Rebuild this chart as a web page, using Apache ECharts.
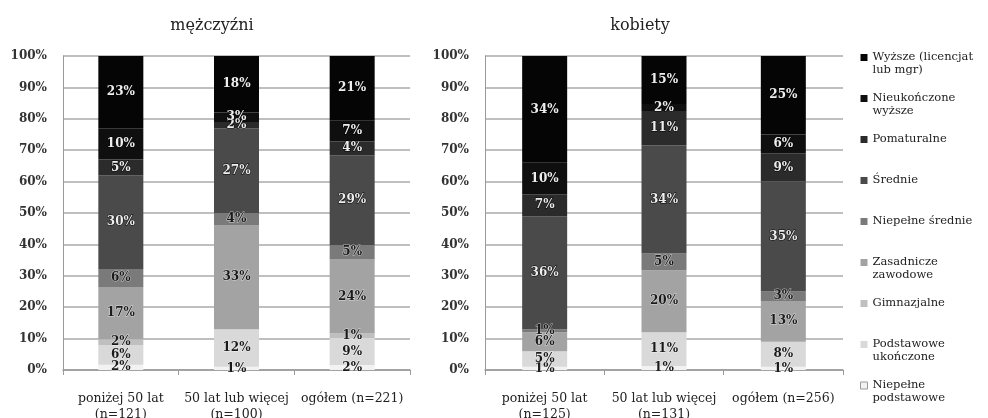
<!DOCTYPE html>
<html>
<head>
<meta charset="utf-8">
<script src="https://cdn.jsdelivr.net/npm/echarts@6/dist/echarts.min.js"></script>
<style>
html, body { margin: 0; padding: 0; background: #fff; }
#chart { width: 988px; height: 418px; }
</style>
</head>
<body>
<div id="chart"></div>
<script>
// education levels, bottom of the stack first
const levels = [
  'Niepełne podstawowe',
  'Podstawowe ukończone',
  'Gimnazjalne',
  'Zasadnicze zawodowe',
  'Niepełne średnie',
  'Średnie',
  'Pomaturalne',
  'Nieukończone wyższe',
  'Wyższe (licencjat lub mgr)'
]

const menCategories = ['poniżej 50 lat\n(n=121)', '50 lat lub więcej\n(n=100)', 'ogółem (n=221)']
const womenCategories = ['poniżej 50 lat\n(n=125)', '50 lat lub więcej\n(n=131)', 'ogółem (n=256)']

// shares in %, one array per bar, same order as levels
const menUnder50 = [1.7, 6.2, 1.9, 16.6, 5.8, 29.8, 5.0, 10.0, 23.0]
const menOver50 = [1, 12, 0, 33, 4, 27, 2, 3, 18]
const menTotal = [1.6, 8.6, 1.4, 23.6, 4.6, 28.6, 4.4, 6.6, 20.6]
const womenUnder50 = [1, 5, 0, 6, 1, 36, 7, 10, 34]
const womenOver50 = [1.3, 10.7, 0, 19.8, 5.3, 34.4, 11.0, 2.2, 15.3]
const womenTotal = [1, 8, 0, 13, 3, 35, 9, 6, 25]

const yTicks = [0, 10, 20, 30, 40, 50, 60, 70, 80, 90, 100]

const levelColors = ['#f2f2f2', '#d9d9d9', '#bfbfbf', '#a3a3a3', '#7a7a7a', '#4a4a4a', '#2b2b2b', '#0f0f0f', '#050505']
const legendText = {
  'Wyższe (licencjat lub mgr)': 'Wyższe (licencjat\nlub mgr)',
  'Nieukończone wyższe': 'Nieukończone\nwyższe',
  'Zasadnicze zawodowe': 'Zasadnicze\nzawodowe',
  'Podstawowe ukończone': 'Podstawowe\nukończone',
  'Niepełne podstawowe': 'Niepełne\npodstawowe'
}

const serif = '"DejaVu Serif", "Liberation Serif", serif'

const chart = echarts.init(document.getElementById('chart'))

const makeSeries = (axisIndex, bars) => levels.map((name, i) => ({
  name: name,
  type: 'bar',
  stack: 'g' + axisIndex,
  xAxisIndex: axisIndex,
  yAxisIndex: axisIndex,
  barWidth: 45,
  data: bars.map(b => b[i]),
  itemStyle: { color: levelColors[i] },
  label: {
    show: true,
    position: 'inside',
    formatter: p => (p.value > 0 ? Math.round(p.value) + '%' : ''),
    fontFamily: serif,
    fontSize: 12,
    fontWeight: 'bold',
    color: i >= 5 ? '#eeeeee' : '#1a1a1a',
    textBorderColor: i >= 5 ? '#000' : 'rgba(255,255,255,0.6)',
    textBorderWidth: 1
  },
  emphasis: { disabled: true }
}))

const yAxisCommon = {
  type: 'value',
  min: 0,
  max: 100,
  interval: 10,
  axisLabel: {
    formatter: v => (yTicks.includes(v) ? v + '%' : ''),
    fontFamily: serif,
    fontSize: 12,
    fontWeight: 'bold',
    color: '#333',
    margin: 16
  },
  axisLine: { show: true, lineStyle: { color: '#9a9a9a', width: 1 } },
  axisTick: { show: false },
  splitLine: { lineStyle: { color: '#aaaaaa', width: 1.5 } }
}

const xAxisCommon = {
  type: 'category',
  axisLabel: {
    fontFamily: serif,
    fontSize: 12.5,
    color: '#222',
    margin: 21,
    lineHeight: 16,
    interval: 0
  },
  axisLine: { lineStyle: { color: '#9a9a9a', width: 1.5 } },
  axisTick: { show: true, length: 5, lineStyle: { color: '#9a9a9a' } }
}

chart.setOption({
  animation: false,
  title: [
    { text: 'mężczyźni', left: 207, top: 13, textAlign: 'center',
      textStyle: { fontFamily: serif, fontSize: 16, fontWeight: 'normal', color: '#222' } },
    { text: 'kobiety', left: 635, top: 13, textAlign: 'center',
      textStyle: { fontFamily: serif, fontSize: 16, fontWeight: 'normal', color: '#222' } }
  ],
  grid: [
    { left: 63, top: 56, width: 347, height: 314, outerBoundsMode: 'none', containLabel: false },
    { left: 485, top: 56, width: 358, height: 314, outerBoundsMode: 'none', containLabel: false }
  ],
  xAxis: [
    Object.assign({ gridIndex: 0, data: menCategories }, xAxisCommon),
    Object.assign({ gridIndex: 1, data: womenCategories }, xAxisCommon)
  ],
  yAxis: [
    Object.assign({ gridIndex: 0 }, yAxisCommon),
    Object.assign({ gridIndex: 1 }, yAxisCommon)
  ],
  legend: {
    orient: 'vertical',
    left: 855,
    top: 33,
    itemWidth: 7,
    itemHeight: 7,
    itemGap: 2,
    icon: 'rect',
    selectedMode: false,
    data: levels.slice().reverse().map(n => (n === 'Niepełne podstawowe'
      ? { name: n, itemStyle: { borderColor: '#999', borderWidth: 1 } }
      : { name: n })),
    formatter: n => {
      const t = legendText[n] || n
      // pad to three lines so the marker sits on the first text line
      return t.includes('\n') ? '\n' + t : '\n' + t + '\n'
    },
    textStyle: { fontFamily: serif, fontSize: 11.5, lineHeight: 13, color: '#222' }
  },
  series: [
    ...makeSeries(0, [menUnder50, menOver50, menTotal]),
    ...makeSeries(1, [womenUnder50, womenOver50, womenTotal])
  ]
})
</script>
</body>
</html>
